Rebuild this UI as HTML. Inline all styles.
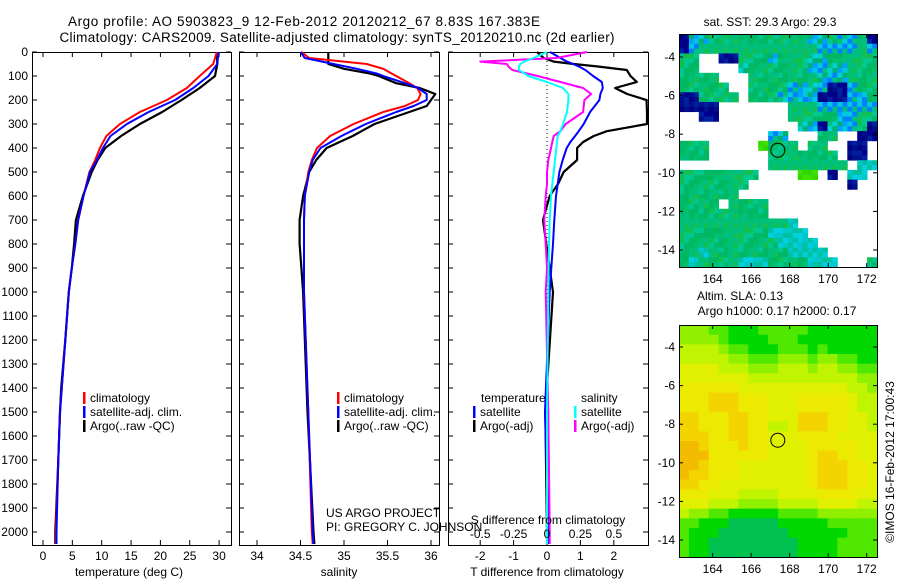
<!DOCTYPE html>
<html><head><meta charset="utf-8">
<style>
html,body{margin:0;padding:0;background:#fff;}
svg{display:block;font-family:"Liberation Sans",sans-serif;}
text{fill:#000;}
</style></head>
<body>
<svg id="c" width="900" height="580" viewBox="0 0 900 580" xmlns="http://www.w3.org/2000/svg">
<g>
<text x="68" y="26" font-size="13.5" text-anchor="start" textLength="472">Argo profile: AO 5903823_9 12-Feb-2012 20120212_67 8.83S 167.383E</text>
<text x="337" y="42" font-size="13.5" text-anchor="middle" textLength="555">Climatology: CARS2009. Satellite-adjusted climatology: synTS_20120210.nc (2d earlier)</text>
</g>
</svg>
<script>
// ---------- data ----------
const tDepth = [0,50,100,150,200,250,300,350,400,450,500,600,700,800,900,1000,1200,1400,1500,1700,2000,2050];
const tClim  = [29.6,29,26.7,24.5,21.1,16.5,13.1,10.8,9.7,8.9,7.9,6.9,6.0,5.5,4.9,4.4,3.8,3.2,2.9,2.6,2.2,2.2];
const tSat   = [29.9,29.7,28.2,25.6,22.5,18,14.3,11.5,10.2,9.2,8,6.9,6.0,5.5,4.9,4.4,3.8,3.2,2.9,2.6,2.3,2.3];
const tArgo  = [29.6,29.7,29.3,26.7,23.6,20.3,16.5,13.3,10.6,9.3,8.3,6.8,5.6,5.3,4.9,4.4,3.8,3.1,2.9,2.6,2.1,2.1];
const sDepth = [0,25,50,70,90,100,130,150,175,200,225,250,300,350,400,450,500,600,700,800,900,1000,1500,2000,2050];
const sClim  = [34.51,34.6,35.26,35.45,35.55,35.6,35.75,35.84,35.88,35.85,35.7,35.45,35.11,34.84,34.69,34.63,34.59,34.55,34.54,34.54,34.54,34.54,34.59,34.63,34.64];
const sSat   = [34.5,34.55,34.88,35.15,35.38,35.45,35.7,35.85,35.95,35.95,35.8,35.6,35.25,34.97,34.73,34.64,34.6,34.55,34.54,34.54,34.54,34.54,34.59,34.64,34.65];
const sArgo  = [34.82,34.82,34.82,35.0,35.3,35.4,35.6,35.87,36.05,36.0,35.95,35.75,35.35,35.1,34.8,34.68,34.6,34.53,34.49,34.49,34.51,34.53,34.58,34.65,34.66];
const dDepth = [0,25,40,50,60,75,100,125,150,175,200,250,300,330,350,375,400,450,500,550,600,700,800,900,1000,1500,2000,2050];
const dTSat  = [0.09,0.4,0.6,0.78,0.95,1.15,1.38,1.64,1.67,1.6,1.57,1.29,1.1,0.95,0.84,0.7,0.59,0.47,0.37,0.32,0.27,0.22,0.18,0.13,0.08,-0.06,0.05,0.05];
const dTArgo = [-0.3,-0.1,0.2,0.8,1.49,2.39,2.5,2.69,2.04,2.4,2.98,3.0,3.0,1.79,1.4,1.08,0.9,0.9,0.5,0.33,0.08,-0.12,-0.02,0.08,0.18,-0.05,0.0,0.0];
const dSSat  = [0,-0.1,-0.17,-0.2,-0.21,-0.21,-0.14,0,0.12,0.16,0.16,0.15,0.12,0.1,0.08,0.075,0.07,0.06,0.05,0.04,0.03,0.02,0.015,0.012,0.01,0.0,0.0,0.0];
const dSArgo = [0.3,0.07,-0.5,-0.3,-0.29,-0.26,-0.07,0.1,0.27,0.33,0.28,0.27,0.14,0.1,0.05,0.04,0.03,0.01,0.0,0.0,-0.01,-0.02,-0.01,0.0,-0.01,0.01,0.02,0.02];
const depthTicks = [0,100,200,300,400,500,600,700,800,900,1000,1100,1200,1300,1400,1500,1600,1700,1800,1900,2000];
const tTicks = [0,5,10,15,20,25,30];
const sTicks = [34,34.5,35,35.5,36];
const dtTicks = [-2,-1,0,1,2];
const dsTicks = [-0.5,-0.25,0,0.25,0.5];
const dsTickLabels = ["-0.5","-0.25","0","0.25","0.5"];
const latTicks = [-4,-6,-8,-10,-12,-14];
const lonTicks = [164,166,168,170,172];
const floatLon = 167.383, floatLat = -8.83;

const sstGrid = [
"dbbggggggggggbbgbbgd","dbggggggggggggbbbbgb","gg..ddgggbgggbbggggg","gg....bggggggbbbbggg",
"gggg...gggggggbbbggg","ggggg..ggggbbbbddbgg","ddgggg.gggbbbbdddbbg","dddd.......gggbbbbbb",
"..dd.......gggggbbgg","............bbdbbbgd",".........bb...gg..dd","ggg.....lggg.gg..dd.",
"ggg......ggggggg.dd.",".........gggggggg.cc","gggggggg....ll.d.cc.","ggggggg..........d..",
"gggggg..............","gggg.gggg...........","ggggggggg...........","gggggggggggc........",
"gggggggggcccc.......","ggggggggggcccc......","ggcggggggggcccc.....","gcggggcccggggccc...g"];
const slaGrid = [
"33322111222221111111","33332111122211111111","44443221112221211111","44444332223332332211",
"55554443334443443322","55555554444444444433","66666655555555555443","66677766655566666544",
"66677766655566666544","77666776655577766554","77666776644577766554","77766776655566665555",
"88766676655556666655","88866666655556776655","88766655555556777665","87766655555556777665",
"77665555555556777665","66655544445555666655","55544433334444555544","43322111112222333333",
"22111000001111122222","21110000000111111222","21100000000011112222","21100000000011112222"];

// ---------- helpers ----------
const NS="http://www.w3.org/2000/svg";
const svg=document.getElementById('c');
function el(tag,attrs,parent){const e=document.createElementNS(NS,tag);for(const k in attrs)e.setAttribute(k,attrs[k]);(parent||svg).appendChild(e);return e;}
function txt(x,y,s,size,anchor,parent){const t=el('text',{x:x,y:y,'font-size':size||12,'text-anchor':anchor||'start'},parent);t.textContent=s;return t;}
const yD = d => 52 + d*0.24;
const P1={x0:32,x1:231}, P2={x0:239,x1:439}, P3={x0:448,x1:648};
const xT = v => 43 + v*5.87;
const xS = v => 257 + (v-34)*87;
const xDT = v => 547 + v*33.4;
const xDS = v => 547 + v*133.6;

function panelFrame(P,name){
  const g=el('g',{});
  
  
  el('rect',{x:P.x0+0.5,y:52.5,width:P.x1-P.x0,height:493,fill:'#fff',stroke:'#000','stroke-width':1},g);
  depthTicks.forEach(d=>{
    el('line',{x1:P.x0,x2:P.x0+5,y1:yD(d),y2:yD(d),stroke:'#000'},g);
    el('line',{x1:P.x1-5,x2:P.x1,y1:yD(d),y2:yD(d),stroke:'#000'},g);
  });
  return g;
}
function clipLine(g,xs,ds,fx,color,w,name,P){
  const pts=xs.map((v,i)=>{let x=Math.min(Math.max(fx(v),P.x0+1),P.x1-1);return x.toFixed(1)+','+yD(ds[i]).toFixed(1);}).join(' ');
  const p=el('polyline',{points:pts,fill:'none',stroke:color,'stroke-width':w,'stroke-linejoin':'round'},g);
  
  
}
function legendEntry(g,x,y,color,label,name){
  const lg=el('g',{},g);
  
  
  if(color) el('rect',{x:x,y:y-10,width:2.5,height:12,fill:color},lg);
  txt(x+7,y,label,12,'start',lg);
}

// ---------- panel 1 ----------
const g1=panelFrame(P1,'temperature-panel');
tTicks.forEach(v=>{
  el('line',{x1:xT(v),x2:xT(v),y1:52,y2:57,stroke:'#000'},g1);
  el('line',{x1:xT(v),x2:xT(v),y1:540,y2:545,stroke:'#000'},g1);
  const t=txt(xT(v),560,String(v),12,'middle',g1);
  
  
});
depthTicks.forEach(d=>{
  const t=txt(28,yD(d)+4,String(d),12,'end',g1);
  
  
});
const xt1=txt(129,576,'temperature (deg C)',12,'middle',g1);


clipLine(g1,tArgo,tDepth,xT,'#000',2.2,'line-argo-temp',P1);
clipLine(g1,tClim,tDepth,xT,'#f00',2,'line-climatology-temp',P1);
clipLine(g1,tSat,tDepth,xT,'#00f',2,'line-satellite-temp',P1);
legendEntry(g1,83,402,'#f00','climatology','legend-entry-climatology');
legendEntry(g1,83,416,'#00f','satellite-adj. clim.','legend-entry-satellite');
legendEntry(g1,83,430,'#000','Argo(..raw -QC)','legend-entry-argo');

// ---------- panel 2 ----------
const g2=panelFrame(P2,'salinity-panel');
sTicks.forEach(v=>{
  el('line',{x1:xS(v),x2:xS(v),y1:52,y2:57,stroke:'#000'},g2);
  el('line',{x1:xS(v),x2:xS(v),y1:540,y2:545,stroke:'#000'},g2);
  const t=txt(xS(v),560,String(v),12,'middle',g2);
  
  
});
const xt2=txt(339,576,'salinity',12,'middle',g2);


clipLine(g2,sArgo,sDepth,xS,'#000',2.2,'line-argo-salinity',P2);
clipLine(g2,sClim,sDepth,xS,'#f00',2,'line-climatology-salinity',P2);
clipLine(g2,sSat,sDepth,xS,'#00f',2,'line-satellite-salinity',P2);
legendEntry(g2,337,402,'#f00','climatology','legend-entry-climatology-2');
legendEntry(g2,337,416,'#00f','satellite-adj. clim.','legend-entry-satellite-2');
legendEntry(g2,337,430,'#000','Argo(..raw -QC)','legend-entry-argo-2');

// ---------- panel 3 ----------
const g3=panelFrame(P3,'difference-panel');
dtTicks.forEach(v=>{
  el('line',{x1:xDT(v),x2:xDT(v),y1:52,y2:57,stroke:'#000'},g3);
  el('line',{x1:xDT(v),x2:xDT(v),y1:540,y2:545,stroke:'#000'},g3);
  const t=txt(xDT(v),560,String(v),12,'middle',g3);
  
  
});
el('line',{x1:547,x2:547,y1:53,y2:545,stroke:'#000','stroke-dasharray':'1,3'},g3);
clipLine(g3,dTArgo,dDepth,xDT,'#000',2.2,'line-argo-tdiff',P3);
clipLine(g3,dTSat,dDepth,xDT,'#00f',2,'line-satellite-tdiff',P3);
clipLine(g3,dSArgo,dDepth,xDS,'#f0f',2,'line-argo-sdiff',P3);
clipLine(g3,dSSat,dDepth,xDS,'#0ff',2,'line-satellite-sdiff',P3);
dsTicks.forEach((v,i)=>{
  const t=txt(xDS(v),538,dsTickLabels[i],12,'middle',g3);
  
  
});
const sdt=txt(548,524,'S difference from climatology',12,'middle',g3);


const tdt=txt(547,576,'T difference from climatology',12,'middle',g3);


legendEntry(g3,474,402,null,'temperature','legend-title-temperature');
legendEntry(g3,473,416,'#00f','satellite','legend-entry-temp-satellite');
legendEntry(g3,473,430,'#000','Argo(-adj)','legend-entry-temp-argo');
legendEntry(g3,574,402,null,'salinity','legend-title-salinity');
legendEntry(g3,574,416,'#0ff','satellite','legend-entry-sal-satellite');
legendEntry(g3,574,430,'#f0f','Argo(-adj)','legend-entry-sal-argo');

const cr=el('g',{});


txt(326,517,'US ARGO PROJECT',12,'start',cr);
txt(326,531,'PI: GREGORY C. JOHNSON',12,'start',cr);

// ---------- maps ----------
function mapFrame(M,name,title1,title2){
  const g=el('g',{});
  
  
  if(title2){txt(740,300,title1,12,'middle',g);txt(777,315,title2,12,'middle',g);}
  else txt(770,26,title1,12,'middle',g);
  return g;
}
const lonX = (M,v)=> M.x0 + (v-162.25)*19.25;
const latY = (M,v)=> M.latY0 + (-4 - v)*19.3;
function mapAxes(M,g){
  el('rect',{x:M.x0+0.5,y:M.y0+0.5,width:M.x1-M.x0,height:M.y1-M.y0,fill:'none',stroke:'#000'},g);
  latTicks.forEach(v=>{
    const y=latY(M,v);
    el('line',{x1:M.x0,x2:M.x0+4,y1:y,y2:y,stroke:'#000'},g);
    el('line',{x1:M.x1-4,x2:M.x1,y1:y,y2:y,stroke:'#000'},g);
    const t=txt(M.x0-4,y+4,String(v),12,'end',g);
    
    
  });
  lonTicks.forEach(v=>{
    const x=lonX(M,v);
    el('line',{x1:x,x2:x,y1:M.y0,y2:M.y0+4,stroke:'#000'},g);
    el('line',{x1:x,x2:x,y1:M.y1-4,y2:M.y1,stroke:'#000'},g);
    const t=txt(x,M.y1+16,String(v),12,'middle',g);
    
    
  });
  const c=el('circle',{cx:lonX(M,floatLon),cy:latY(M,floatLat),r:7,fill:'none',stroke:'#000','stroke-width':1},g);
  
  
}
const palette={
  g:['#00b860','#00c070','#00bf80','#10c050','#00c890','#00b868'],
  b:['#00a0ff','#00c8e0','#0080ff','#00c080','#00d0d0','#00b070'],
  d:['#000080','#00108c','#0020a0','#000090'],
  l:['#40e000','#30d800'],
  c:['#00d0e0','#00c8c8','#00c0a0']
};
const M1={x0:679,x1:877,y0:34,y1:267,latY0:57};
const gm1=mapFrame(M1,'sst-map','sat. SST: 29.3 Argo: 29.3');
(function(){
  const cols=20,rows=24,cw=(M1.x1-M1.x0)/cols,ch=(M1.y1-M1.y0)/rows;
  for(let r=0;r<rows;r++)for(let c=0;c<cols;c++){
    const k=sstGrid[r][c]; if(k==='.')continue;
    const pal=palette[k];
    for(let a=0;a<2;a++)for(let b=0;b<2;b++){
      const h=(r*31+c*17+a*7+b*13+r*c)%pal.length;
      el('rect',{x:(M1.x0+c*cw+b*cw/2).toFixed(2),y:(M1.y0+r*ch+a*ch/2).toFixed(2),width:(cw/2+0.4).toFixed(2),height:(ch/2+0.4).toFixed(2),fill:pal[h]},gm1);
    }
  }
})();
mapAxes(M1,gm1);

const slaColors=['#00c050','#00d800','#50e800','#90f000','#c0f400','#e0f000','#ecea00','#f4d400','#f4bc00'];
const M2={x0:679,x1:877,y0:325,y1:557,latY0:347};
const gm2=mapFrame(M2,'sla-map','Altim. SLA: 0.13','Argo h1000: 0.17 h2000: 0.17');
(function(){
  const cols=20,rows=24,cw=(M2.x1-M2.x0)/cols,ch=(M2.y1-M2.y0)/rows;
  for(let r=0;r<rows;r++)for(let c=0;c<cols;c++){
    el('rect',{x:(M2.x0+c*cw).toFixed(2),y:(M2.y0+r*ch).toFixed(2),width:(cw+0.4).toFixed(2),height:(ch+0.4).toFixed(2),fill:slaColors[+slaGrid[r][c]]},gm2);
  }
})();
mapAxes(M2,gm2);

const stamp=el('text',{x:0,y:0,'font-size':12,'text-anchor':'middle',transform:'translate(894,462) rotate(-90)'});
stamp.textContent='©IMOS 16-Feb-2012 17:00:43';


</script>
</body></html>
